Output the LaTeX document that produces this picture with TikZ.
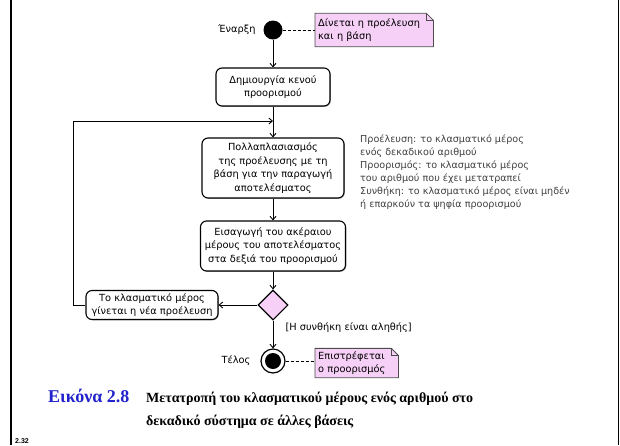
\documentclass[tikz,border=0pt]{standalone}
\usepackage{fontspec}
\setmainfont{DejaVu Sans}
\newfontfamily\captionserif{Liberation Serif}
\newfontfamily\pagesans{Liberation Sans}
\usetikzlibrary{shapes.geometric,shadows,arrows.meta,backgrounds}

\definecolor{notepink}{RGB}{246,208,246}
\definecolor{captionblue}{RGB}{34,34,204}
\definecolor{textgray}{RGB}{64,64,64}

% pink note with a folded top-right corner, drawn behind the named node
\newcommand{\notefold}[1]{%
  \begin{pgfonlayer}{background}
    \filldraw[fill=notepink, draw=black!70, line width=0.8pt]
      (#1.north west) -- ([xshift=-7pt]#1.north east) -- ([yshift=-7pt]#1.north east)
      -- (#1.south east) -- (#1.south west) -- cycle;
    \draw[black!70, line width=0.8pt]
      ([xshift=-7pt]#1.north east) -- ([xshift=-7pt,yshift=-7pt]#1.north east)
      -- ([yshift=-7pt]#1.north east);
  \end{pgfonlayer}%
}

\begin{document}
\begin{tikzpicture}[x=1pt, y=-1pt,
    action/.style={draw, line width=1.1pt, rounded corners=6pt, fill=white, align=center,
      inner sep=1pt, font=\fontsize{9.8}{13.5}\selectfont,
      drop shadow={shadow xshift=0.8pt, shadow yshift=-0.8pt, fill=black!65}},
    memo/.style={text width=#1, align=left, inner sep=3pt,
      font=\fontsize{9.8}{13}\selectfont},
    lbl/.style={font=\fontsize{9.8}{13.5}\selectfont},
    flow/.style={-{Straight Barb[length=3.5pt,width=6pt]}, line width=0.9pt},
    link/.style={line width=1pt, dash pattern=on 3pt off 2pt}]
  \useasboundingbox (0,0) rectangle (620,445);
  % page frame
  \draw[line width=2.5pt] (11,0) -- (11,445);
  \draw[line width=1pt] (618.5,0) -- (618.5,445);

  % start and first step
  \node[circle, fill=black, minimum size=19, inner sep=0] (start) at (273,30) {};
  \node[lbl, anchor=east] (startlbl) at (259,30) {Έναρξη};
  \node[memo=112, minimum height=33, anchor=west] (givennote) at (315,30)
    {Δίνεται η προέλευση\\και η βάση};
  \notefold{givennote}
  \draw[link] (start) -- (givennote);

  \node[action, minimum width=114, minimum height=38] (create) at (273,87)
    {Δημιουργία κενού\\προορισμού};
  \node[action, minimum width=142, minimum height=60] (multiply) at (273,168)
    {Πολλαπλασιασμός\\της προέλευσης με τη\\βάση για την παραγωγή\\αποτελέσματος};
  \node[action, minimum width=145, minimum height=50] (insert) at (273,246)
    {Εισαγωγή του ακέραιου\\μέρους του αποτελέσματος\\στα δεξιά του προορισμού};

  % decision and loop back
  \node[diamond, draw, fill=notepink, line width=1.1pt, minimum width=30,
    minimum height=30, inner sep=0] (decide) at (273,305) {};
  \node[action, minimum width=132, minimum height=29] (newsrc) at (152,305)
    {Το κλασματικό μέρος\\γίνεται η νέα προέλευση};
  \coordinate (merge) at (273,121);
  \coordinate (loopturn) at (73,121);

  % end
  \node[circle, draw, line width=1.2pt, fill=white, minimum size=24, inner sep=0]
    (stop) at (273,361) {};
  \fill (stop) circle (8);
  \node[lbl, anchor=east] (stoplbl) at (254,361) {Τέλος};
  \node[memo=77, minimum height=26, anchor=west] (resultnote) at (315,363)
    {Επιστρέφεται\\ο προορισμός};
  \notefold{resultnote}
  \draw[link] (stop.east) -- (stop.east -| resultnote.west);
  \node[lbl, anchor=west] (condlbl) at (282,328) {[Η συνθήκη είναι αληθής]};

  % connectors
  \draw[flow] (start) -- (create);
  \draw[flow] (create) -- (multiply);
  \draw[flow] (multiply) -- (insert);
  \draw[flow] (insert) -- (decide);
  \draw[flow] (decide) -- (newsrc);
  \draw[flow] (newsrc.west) -| (loopturn) -- (merge);
  \draw[flow] (decide) -- (stop);

  % explanation on the right
  \node[anchor=north west, align=left, text=textgray, inner sep=0,
    font=\fontsize{9.6}{13}\selectfont] (legend) at (360,135)
    {Προέλευση: το κλασματικό μέρος\\ενός δεκαδικού αριθμού\\
     Προορισμός: το κλασματικό μέρος\\του αριθμού που έχει μετατραπεί\\
     Συνθήκη: το κλασματικό μέρος είναι μηδέν\\ή επαρκούν τα ψηφία προορισμού};

  % caption
  \node[anchor=base west, inner sep=0, text=captionblue,
    font=\captionserif\bfseries\fontsize{18}{20}\selectfont] (figlbl) at (48,402) {Εικόνα 2.8};
  \node[anchor=base west, inner sep=0,
    font=\captionserif\bfseries\fontsize{14}{16}\selectfont] (capline) at (146,402)
    {Μετατροπή του κλασματικού μέρους ενός αριθμού στο};
  \node[anchor=base west, inner sep=0,
    font=\captionserif\bfseries\fontsize{14}{16}\selectfont] (caplinetwo) at (146,425)
    {δεκαδικό σύστημα σε άλλες βάσεις};
  \node[anchor=base west, inner sep=0,
    font=\pagesans\bfseries\fontsize{7}{8}\selectfont] (pagenum) at (15,443) {2.32};
\end{tikzpicture}
\end{document}
